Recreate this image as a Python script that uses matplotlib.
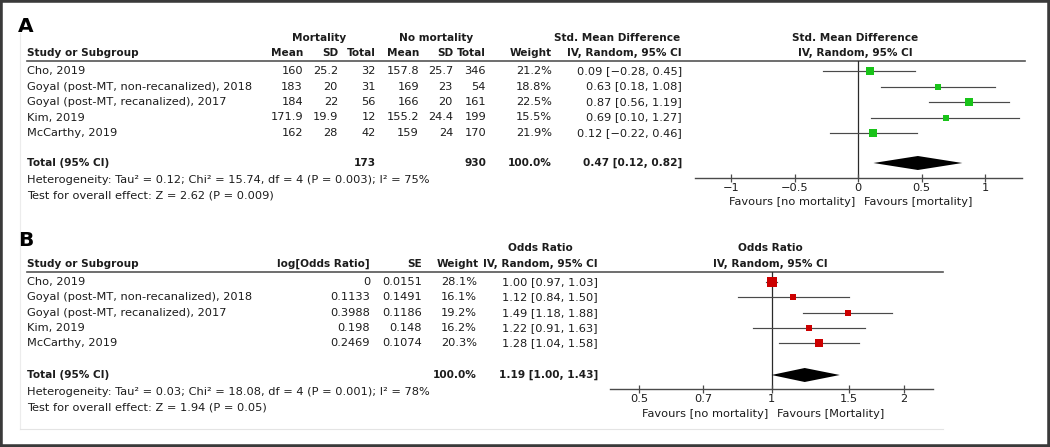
#!/usr/bin/env python3
"""RevMan-style forest plots: SMD (A) and odds ratio (B) for mortality."""

import matplotlib

matplotlib.use("Agg")
import matplotlib.pyplot as plt
from matplotlib.patches import Rectangle

W, H = 1050, 447
INK = "#1c1c1c"
LINE = "#4a4a4a"
FS = 8.2
FSB = 7.6

studies = [
    "Cho, 2019",
    "Goyal (post-MT, non-recanalized), 2018",
    "Goyal (post-MT, recanalized), 2017",
    "Kim, 2019",
    "McCarthy, 2019",
]

# panel A: continuous outcome, std. mean difference
mort_mean = [160, 183, 184, 171.9, 162]
mort_sd = [25.2, 20, 22, 19.9, 28]
mort_n = [32, 31, 56, 12, 42]
nomort_mean = [157.8, 169, 166, 155.2, 159]
nomort_sd = [25.7, 23, 20, 24.4, 24]
nomort_n = [346, 54, 161, 199, 170]
smd_weight = [21.2, 18.8, 22.5, 15.5, 21.9]
smd = [0.09, 0.63, 0.87, 0.69, 0.12]
smd_lo = [-0.28, 0.18, 0.56, 0.10, -0.22]
smd_hi = [0.45, 1.08, 1.19, 1.27, 0.46]
smd_total = [0.47, 0.12, 0.82]
smd_ticks = [-1, -0.5, 0, 0.5, 1]
smd_tick_labels = ["\u22121", "\u22120.5", "0", "0.5", "1"]

# panel B: generic inverse variance, odds ratio
log_or = [0, 0.1133, 0.3988, 0.198, 0.2469]
log_or_se = [0.0151, 0.1491, 0.1186, 0.148, 0.1074]
or_weight = [28.1, 16.1, 19.2, 16.2, 20.3]
odds = [1.00, 1.12, 1.49, 1.22, 1.28]
odds_lo = [0.97, 0.84, 1.18, 0.91, 1.04]
odds_hi = [1.03, 1.50, 1.88, 1.63, 1.58]
odds_total = [1.19, 1.00, 1.43]
or_ticks = [0.5, 0.7, 1, 1.5, 2]
or_tick_labels = ["0.5", "0.7", "1", "1.5", "2"]


def num(v):
    return f"{v:g}"


def ci(est, lo, hi):
    s = f"{est:.2f} [{lo:.2f}, {hi:.2f}]"
    return s.replace("-", "\u2212")


def txt(ax, x, y, s, ha="right", bold=False, size=None):
    ax.text(x, y, s, ha=ha, va="center", color=INK,
            fontsize=size or (FSB if bold else FS),
            fontweight="bold" if bold else "normal")


def forest_axes(fig, x0, x1, y0, y1):
    fa = fig.add_axes([x0 / W, 1 - y1 / H, (x1 - x0) / W, (y1 - y0) / H])
    fa.set_ylim(y1, y0)
    fa.patch.set_alpha(0)
    for side in ("top", "left", "right"):
        fa.spines[side].set_visible(False)
    fa.spines["bottom"].set_color(LINE)
    fa.spines["bottom"].set_linewidth(1.0)
    fa.set_yticks([])
    fa.tick_params(axis="x", direction="inout", length=6, width=0.9,
                   color=LINE, labelsize=FS, labelcolor=INK, pad=0.5)
    return fa


def draw_forest(fa, ys, est, lo, hi, weight, colour, total, total_y, ref):
    fa.axvline(ref, color="#2a2a2a", lw=0.9, zorder=1)
    for y, e, l, h, w in zip(ys, est, lo, hi, weight):
        fa.plot([l, h], [y, y], color=LINE, lw=0.85, zorder=2)
        fa.plot([e], [y], marker="s", ms=0.36 * w * 0.72, mew=0,
                color=colour, zorder=3)
    e, l, h = total
    fa.fill([l, e, h, e], [total_y, total_y - 7, total_y, total_y + 7],
            color="black", lw=0, zorder=3)


def favours(fa, ref, left, right, drop):
    fa.annotate(left, xy=(ref, 0), xycoords=("data", "axes fraction"),
                xytext=(-2, -drop), textcoords="offset points",
                ha="right", va="center", fontsize=FS, color=INK)
    fa.annotate(right, xy=(ref, 0), xycoords=("data", "axes fraction"),
                xytext=(4, -drop), textcoords="offset points",
                ha="left", va="center", fontsize=FS, color=INK)


def main():
    fig = plt.figure(figsize=(W / 100, H / 100), dpi=100)
    fig.patch.set_facecolor("white")
    ax = fig.add_axes([0, 0, 1, 1])
    ax.set_xlim(0, W)
    ax.set_ylim(H, 0)
    ax.axis("off")

    # faint panel edges
    ax.plot([20, 20], [33, 429], color="#ececec", lw=0.8)
    ax.plot([20, 943], [429, 429], color="#e4e4e4", lw=0.8)

    # ---------------- panel A ----------------
    ax.text(18, 27, "A", ha="left", va="center", fontsize=14.5,
            fontweight="bold", color="black")
    txt(ax, 319, 38, "Mortality", ha="center", bold=True)
    txt(ax, 436, 38, "No mortality", ha="center", bold=True)
    txt(ax, 617, 38, "Std. Mean Difference", ha="center", bold=True)
    txt(ax, 855, 38, "Std. Mean Difference", ha="center", bold=True)
    txt(ax, 27, 53, "Study or Subgroup", ha="left", bold=True)
    cols_a = [303, 338, 376, 419, 453, 486, 552, 682]
    heads_a = ["Mean", "SD", "Total", "Mean", "SD", "Total", "Weight",
               "IV, Random, 95% CI"]
    for x, s in zip(cols_a, heads_a):
        txt(ax, x, 53, s, bold=True)
    txt(ax, 855, 53, "IV, Random, 95% CI", ha="center", bold=True)
    ax.plot([27, 1025], [61, 61], color="#555555", lw=1.2)

    ys_a = [71 + 15.5 * i for i in range(len(studies))]
    for i, y in enumerate(ys_a):
        txt(ax, 27, y, studies[i], ha="left")
        vals = [num(mort_mean[i]), num(mort_sd[i]), num(mort_n[i]),
                num(nomort_mean[i]), num(nomort_sd[i]), num(nomort_n[i]),
                f"{smd_weight[i]:.1f}%", ci(smd[i], smd_lo[i], smd_hi[i])]
        for x, s in zip(cols_a, vals):
            txt(ax, x, y, s)

    ty_a = 163
    txt(ax, 27, ty_a, "Total (95% CI)", ha="left", bold=True)
    txt(ax, cols_a[2], ty_a, num(sum(mort_n)), bold=True)
    txt(ax, cols_a[5], ty_a, num(sum(nomort_n)), bold=True)
    txt(ax, cols_a[6], ty_a, "100.0%", bold=True)
    txt(ax, cols_a[7], ty_a, ci(*smd_total), bold=True)
    txt(ax, 27, 180, "Heterogeneity: Tau\u00b2 = 0.12; Chi\u00b2 = 15.74, "
        "df = 4 (P = 0.003); I\u00b2 = 75%", ha="left")
    txt(ax, 27, 196, "Test for overall effect: Z = 2.62 (P = 0.009)", ha="left")

    fa = forest_axes(fig, 695, 1022, 61, 178)
    fa.set_xlim(-1.285, 1.29)
    fa.set_xticks(smd_ticks, smd_tick_labels)
    draw_forest(fa, ys_a, smd, smd_lo, smd_hi, smd_weight, "#19c319",
                smd_total, ty_a, 0)
    favours(fa, 0, "Favours [no mortality]", "Favours [mortality]", 17.5)

    # ---------------- panel B ----------------
    ax.text(18, 241, "B", ha="left", va="center", fontsize=14.5,
            fontweight="bold", color="black")
    txt(ax, 540, 248, "Odds Ratio", ha="center", bold=True)
    txt(ax, 770, 248, "Odds Ratio", ha="center", bold=True)
    txt(ax, 27, 264, "Study or Subgroup", ha="left", bold=True)
    cols_b = [370, 422, 477, 598]
    heads_b = ["log[Odds Ratio]", "SE", "Weight", "IV, Random, 95% CI"]
    for x, s in zip(cols_b, heads_b):
        txt(ax, x + (2 if s == "Weight" else 0), 264, s, bold=True)
    txt(ax, 770, 264, "IV, Random, 95% CI", ha="center", bold=True)
    ax.plot([27, 943], [272, 272], color="#555555", lw=1.2)

    ys_b = [282 + 15.3 * i for i in range(len(studies))]
    for i, y in enumerate(ys_b):
        txt(ax, 27, y, studies[i], ha="left")
        vals = [num(log_or[i]), num(log_or_se[i]), f"{or_weight[i]:.1f}%",
                ci(odds[i], odds_lo[i], odds_hi[i])]
        for x, s in zip(cols_b, vals):
            txt(ax, x, y, s)

    ty_b = 375
    txt(ax, 27, ty_b, "Total (95% CI)", ha="left", bold=True)
    txt(ax, cols_b[2], ty_b, "100.0%", bold=True)
    txt(ax, cols_b[3], ty_b, ci(*odds_total), bold=True)
    txt(ax, 27, 392, "Heterogeneity: Tau\u00b2 = 0.03; Chi\u00b2 = 18.08, "
        "df = 4 (P = 0.001); I\u00b2 = 78%", ha="left")
    txt(ax, 27, 408, "Test for overall effect: Z = 1.94 (P = 0.05)", ha="left")

    fb = forest_axes(fig, 610, 933, 272, 389)
    fb.set_xscale("log")
    fb.set_xlim(1 / 2.33, 2.33)
    fb.minorticks_off()
    fb.set_xticks(or_ticks, or_tick_labels)
    fb.tick_params(axis="x", which="minor", length=0)
    draw_forest(fb, ys_b, odds, odds_lo, odds_hi, or_weight, "#cc0000",
                odds_total, ty_b, 1)
    favours(fb, 1, "Favours [no mortality]", "Favours [Mortality]", 18)

    fig.patches.append(Rectangle((0, 0), 1, 1, transform=fig.transFigure,
                                 fill=False, edgecolor="#3a3a3a", lw=4))
    fig.savefig("out.png", dpi=100, facecolor="white")
    plt.close(fig)


if __name__ == "__main__":
    main()
